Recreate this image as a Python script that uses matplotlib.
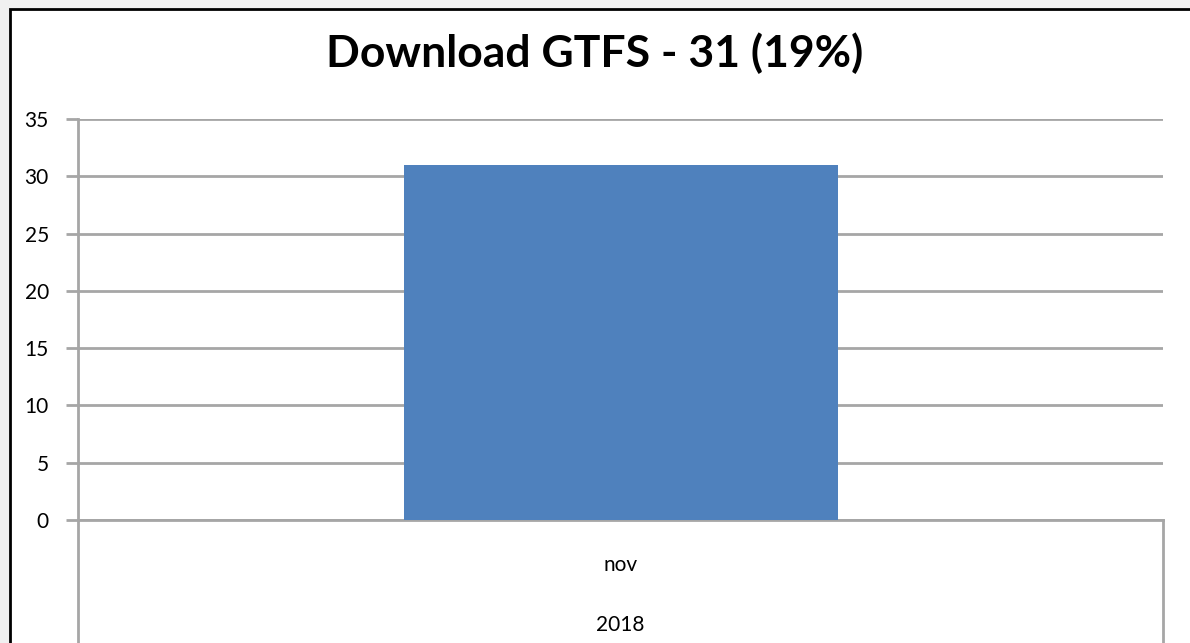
import matplotlib.pyplot as plt
from matplotlib.patches import Rectangle
from matplotlib.lines import Line2D

months = ['nov']
years = ['2018']
downloads = [31]
title = 'Download GTFS - 31 (19%)'

W, H = 1190, 643
fig = plt.figure(figsize=(W / 100, H / 100), dpi=100)
fig.patch.set_facecolor('#f0f0f0')
plt.rcParams['font.family'] = ['Lato', 'DejaVu Sans']

# white chart frame with black border
fig.patches.append(Rectangle((10 / W, -0.01), 1.1, (H - 9) / H + 0.01, transform=fig.transFigure,
                             facecolor='white', edgecolor='black', linewidth=2, zorder=-10))

left, right, top, bottom = 78, 1163, 119, 520
ax = fig.add_axes([left / W, 1 - bottom / H, (right - left) / W, (bottom - top) / H])
ax.set_facecolor('none')

grid_c = '#a6a6a6'
ax.bar(range(len(months)), downloads, width=0.4, color='#4f81bd', zorder=3)
ax.set_xlim(-0.5, len(months) - 0.5)
ax.set_ylim(0, 35)
ax.set_yticks(range(0, 36, 5))
ax.yaxis.grid(True, color=grid_c, linewidth=2)
ax.set_axisbelow(True)
for s in ['top', 'right']:
    ax.spines[s].set_visible(False)
ax.spines['left'].set_color(grid_c)
ax.spines['left'].set_linewidth(2)
ax.spines['bottom'].set_color(grid_c)
ax.spines['bottom'].set_linewidth(2)
ax.tick_params(axis='y', length=9, width=2, color=grid_c, labelsize=15, pad=12)
ax.set_xticks(range(len(months)))
ax.set_xticklabels(months, fontsize=15)
ax.tick_params(axis='x', length=0, pad=25)

# year row below the month labels
for i, yr in enumerate(years):
    ax.text(i, -0.262, yr, transform=ax.get_xaxis_transform(), ha='center', va='center', fontsize=15)

# vertical category separators running to the bottom
depth = (H - bottom) / (bottom - top)
ax.add_line(Line2D([0, 0], [0, -depth], transform=ax.transAxes, color=grid_c, linewidth=2, clip_on=False))
ax.add_line(Line2D([1, 1], [0, -depth], transform=ax.transAxes, color=grid_c, linewidth=2, clip_on=False))

fig.text(0.5, 1 - 53 / H, title, ha='center', va='center', fontsize=32, fontweight='bold')

fig.savefig('out.png', dpi=100)
